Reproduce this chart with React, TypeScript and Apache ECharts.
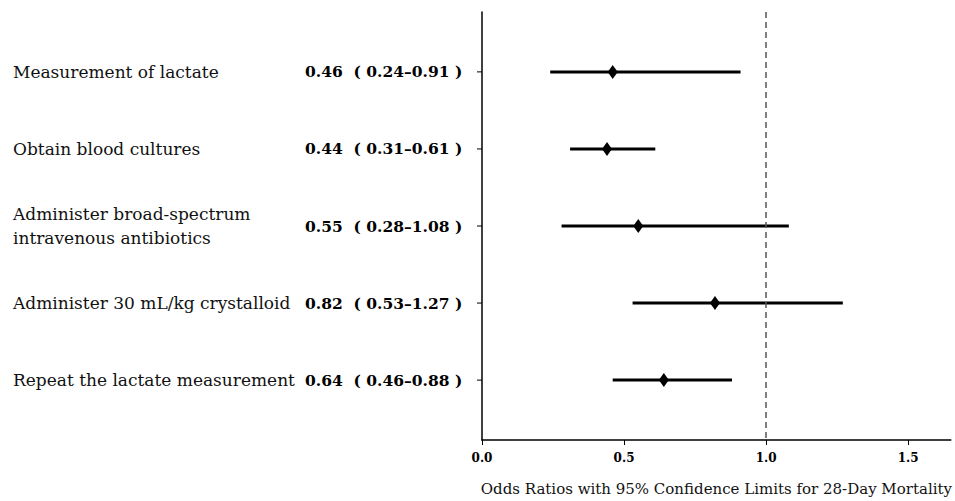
import React, { useEffect, useRef } from "react";
import * as echarts from "echarts";

const categories = [
  "Measurement of lactate",
  "Obtain blood cultures",
  "Administer broad-spectrum\nintravenous antibiotics",
  "Administer 30 mL/kg crystalloid",
  "Repeat the lactate measurement",
];
const oddsRatios = [0.46, 0.44, 0.55, 0.82, 0.64];
const lowerCI = [0.24, 0.31, 0.28, 0.53, 0.46];
const upperCI = [0.91, 0.61, 1.08, 1.27, 0.88];
const xTickValues = [0, 0.5, 1.0, 1.5];
const referenceValue = 1.0;
const xAxisTitle = "Odds Ratios with 95% Confidence Limits for 28-Day Mortality";

const FONT = "DejaVu Serif";

export default function App() {
  const ref = useRef<HTMLDivElement>(null);
  useEffect(() => {
    if (!ref.current) return;
    document.body.style.margin = "0";
    document.body.style.overflow = "hidden";
    const chart = echarts.init(ref.current, null, { renderer: "svg" });
    const ciData = categories.map((c, i) => [i, lowerCI[i], upperCI[i], oddsRatios[i]]);
    const option: any = {
      animation: false,
      backgroundColor: "#ffffff",
      grid: { left: 482, right: 2, top: 12, bottom: 60 },
      xAxis: {
        type: "value",
        min: 0,
        max: 1.65,
        interval: 0.5,
        name: xAxisTitle,
        nameLocation: "middle",
        nameGap: 41,
        nameTextStyle: { fontFamily: FONT, fontSize: 15, color: "#111" },
        axisLine: { show: true, onZero: false, lineStyle: { color: "#000", width: 1.5 } },
        axisTick: {
          show: true,
          length: 5,
          customValues: xTickValues,
          lineStyle: { color: "#000", width: 1 },
        },
        axisLabel: {
          fontFamily: FONT,
          fontWeight: "bold",
          fontSize: 12,
          color: "#000",
          margin: 12,
          customValues: xTickValues,
          formatter: (v: number) => v.toFixed(1),
        },
        splitLine: { show: false },
      },
      yAxis: {
        type: "value",
        min: -0.777,
        max: 4.777,
        inverse: true,
        axisLine: { show: true, onZero: false, lineStyle: { color: "#000", width: 1.5 } },
        axisTick: { show: false },
        axisLabel: { show: false },
        splitLine: { show: false },
      },
      series: [
        {
          type: "custom",
          clip: false,
          data: ciData,
          encode: { x: [1, 2], y: 0 },
          renderItem: (params: any, api: any) => {
            const idx = api.value(0);
            const lo = api.value(1);
            const hi = api.value(2);
            const or = api.value(3);
            const pLo = api.coord([lo, idx]);
            const pHi = api.coord([hi, idx]);
            const pAxis = api.coord([0, idx]);
            const y = pLo[1];
            const ax = pAxis[0];
            const label = categories[params.dataIndex];
            const orText = `${or.toFixed(2)}  ( ${lo.toFixed(2)}–${hi.toFixed(2)} )`;
            return {
              type: "group",
              children: [
                {
                  type: "line",
                  shape: { x1: pLo[0], y1: y, x2: pHi[0], y2: y },
                  style: { stroke: "#000", lineWidth: 3 },
                },
                {
                  type: "line",
                  shape: { x1: ax - 5, y1: y, x2: ax, y2: y },
                  style: { stroke: "#000", lineWidth: 1 },
                },
                {
                  type: "text",
                  x: ax - 469,
                  y: y,
                  style: {
                    text: label,
                    fontFamily: FONT,
                    fontSize: 17,
                    lineHeight: 24,
                    fill: "#111",
                    align: "left",
                    verticalAlign: "middle",
                  },
                },
                {
                  type: "text",
                  x: ax - 177,
                  y: y,
                  style: {
                    text: orText,
                    fontFamily: FONT,
                    fontSize: 15.5,
                    fontWeight: "bold",
                    fill: "#000",
                    align: "left",
                    verticalAlign: "middle",
                  },
                },
              ],
            };
          },
        },
        {
          type: "scatter",
          data: oddsRatios.map((v, i) => [v, i]),
          symbol: "diamond",
          symbolSize: [10, 14],
          itemStyle: { color: "#000", opacity: 1 },
          z: 5,
          markLine: {
            silent: true,
            symbol: "none",
            label: { show: false },
            lineStyle: { color: "#555", width: 1.5, type: [6, 4] },
            data: [{ xAxis: referenceValue }],
          },
        },
      ],
    };
    chart.setOption(option);
    return () => chart.dispose();
  }, []);
  return (
    <div
      ref={ref}
      style={{ position: "absolute", left: 0, top: 0, width: 955, height: 501 }}
    />
  );
}
